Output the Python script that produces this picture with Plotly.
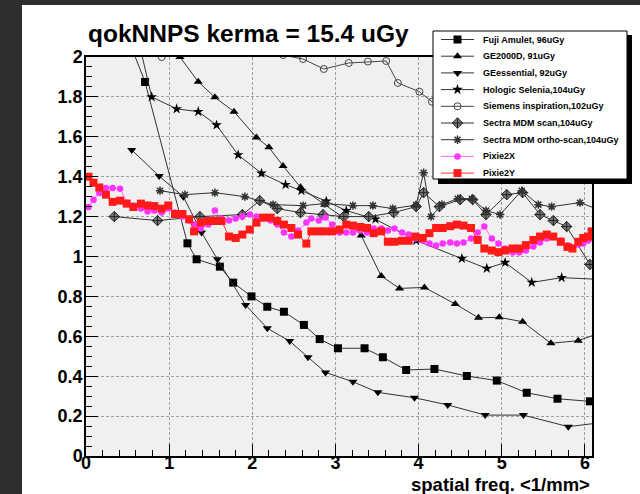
import plotly.graph_objects as go

# ---------------- data ----------------
fuji_x = [0.47, 0.71, 1.22, 1.33, 1.61, 1.77, 1.99, 2.18, 2.38, 2.62, 2.81, 3.03, 3.35, 3.57, 3.85, 4.19, 4.58, 4.94, 5.30, 5.67, 6.06]
fuji_y = [2.13, 1.875, 1.066, 0.986, 0.949, 0.869, 0.80, 0.748, 0.723, 0.657, 0.586, 0.54, 0.54, 0.495, 0.431, 0.436, 0.401, 0.378, 0.317, 0.287, 0.274]

ge2000_x = [1.13, 1.35, 1.55, 1.78, 2.05, 2.20, 2.37, 2.58, 2.87, 3.08, 3.31, 3.55, 3.77, 4.07, 4.44, 4.72, 4.97, 5.25, 5.59, 5.92, 6.20]
ge2000_y = [2.00, 1.876, 1.798, 1.726, 1.597, 1.547, 1.454, 1.347, 1.26, 1.20, 1.105, 0.902, 0.84, 0.845, 0.762, 0.693, 0.695, 0.673, 0.565, 0.578, 0.62]

geess_x = [0.55, 0.88, 1.17, 1.39, 1.58, 1.92, 2.18, 2.45, 2.67, 2.88, 3.21, 3.51, 3.95, 4.35, 4.80, 5.26, 5.80, 6.25]
geess_y = [1.534, 1.403, 1.30, 1.12, 0.986, 0.757, 0.64, 0.576, 0.495, 0.419, 0.372, 0.319, 0.292, 0.256, 0.205, 0.205, 0.147, 0.17]

hologic_x = [0.52, 0.79, 1.09, 1.35, 1.57, 1.83, 2.11, 2.40, 2.59, 2.89, 3.13, 3.48, 3.97, 4.52, 4.82, 5.04, 5.36, 5.72, 6.20]
hologic_y = [2.28, 1.80, 1.74, 1.726, 1.659, 1.509, 1.417, 1.36, 1.33, 1.277, 1.23, 1.187, 1.08, 0.99, 0.94, 0.97, 0.87, 0.894, 0.885]

siemens_x = [0.55, 0.91, 1.30, 1.70, 2.10, 2.37, 2.61, 2.86, 3.16, 3.39, 3.61, 3.75, 4.01, 4.16, 4.60, 5.10, 5.60, 6.20]
siemens_y = [2.30, 2.00, 2.10, 2.12, 2.08, 2.01, 1.99, 1.94, 1.97, 1.977, 1.98, 1.87, 1.826, 1.776, 1.70, 1.68, 1.62, 1.60]

sectra_x = [0.34, 0.86, 1.37, 1.88, 2.09, 2.30, 2.58, 2.85, 3.10, 3.40, 3.70, 3.97, 4.06, 4.25, 4.50, 4.65, 4.81, 5.06, 5.25, 5.46, 5.62, 5.78, 6.06]
sectra_y = [1.20, 1.18, 1.20, 1.21, 1.28, 1.24, 1.22, 1.21, 1.20, 1.20, 1.22, 1.25, 1.32, 1.25, 1.285, 1.285, 1.21, 1.31, 1.32, 1.21, 1.18, 1.15, 0.96]

ortho_x = [0.89, 1.19, 1.55, 1.91, 2.25, 2.61, 2.87, 3.21, 3.45, 3.69, 3.97, 4.06, 4.15, 4.28, 4.47, 4.64, 4.81, 4.98, 5.24, 5.44, 5.60, 5.94, 6.20]
ortho_y = [1.33, 1.31, 1.32, 1.30, 1.26, 1.255, 1.265, 1.255, 1.255, 1.24, 1.258, 1.42, 1.20, 1.26, 1.29, 1.29, 1.23, 1.21, 1.33, 1.26, 1.25, 1.27, 1.23]

pixie_x = [0.03, 0.09, 0.16, 0.24, 0.32, 0.41, 0.49, 0.57, 0.66, 0.74,
           0.82, 0.91, 0.99, 1.07, 1.16, 1.24, 1.30, 1.38, 1.47, 1.55,
           1.63, 1.72, 1.80, 1.88, 1.97, 2.05, 2.13, 2.22, 2.30, 2.38,
           2.47, 2.55, 2.65, 2.71, 2.80, 2.88, 2.96, 3.05, 3.13, 3.21,
           3.30, 3.38, 3.46, 3.55, 3.63, 3.71, 3.80, 3.88, 3.96, 4.05,
           4.13, 4.21, 4.29, 4.38, 4.46, 4.54, 4.63, 4.71, 4.79, 4.88,
           4.96, 5.04, 5.13, 5.21, 5.29, 5.38, 5.46, 5.54, 5.62, 5.71,
           5.79, 5.85, 5.92, 5.98, 6.04, 6.08]
pixie2y = [1.40, 1.37, 1.346, 1.31, 1.274, 1.28, 1.265, 1.248, 1.265, 1.256,
           1.253, 1.24, 1.256, 1.213, 1.213, 1.187, 1.126, 1.17, 1.178, 1.178,
           1.178, 1.10, 1.093, 1.11, 1.135, 1.17, 1.195, 1.195, 1.178, 1.16,
           1.143, 1.11, 1.065, 1.126, 1.126, 1.126, 1.126, 1.135, 1.16, 1.155,
           1.148, 1.143, 1.117, 1.126, 1.074, 1.074, 1.079, 1.079, 1.10, 1.093,
           1.117, 1.143, 1.143, 1.152, 1.16, 1.155, 1.143, 1.083, 1.04, 1.03,
           1.022, 1.03, 1.04, 1.04, 1.057, 1.083, 1.10, 1.11, 1.10, 1.074,
           1.048, 1.04, 1.074, 1.093, 1.10, 1.126]
pixie2x = [1.248, 1.284, 1.318, 1.343, 1.343, 1.34, 1.27, 1.256, 1.24, 1.225,
           1.23, 1.22, 1.24, 1.22, 1.20, 1.18, 1.16, 1.14, 1.16, 1.23,
           1.19, 1.18, 1.19, 1.20, 1.21, 1.20, 1.19, 1.18, 1.16, 1.12,
           1.10, 1.13, 1.17, 1.19, 1.18, 1.195, 1.16, 1.12, 1.12, 1.12,
           1.13, 1.12, 1.14, 1.14, 1.13, 1.14, 1.12, 1.11, 1.09, 1.08,
           1.065, 1.055, 1.065, 1.07, 1.065, 1.07, 1.09, 1.12, 1.15, 1.09,
           1.065, 1.04, 1.02, 1.02, 1.03, 1.05, 1.07, 1.09, 1.10, 1.08,
           1.055, 1.045, 1.06, 1.065, 1.08, 1.10]

series_names = ["Fuji Amulet, 96uGy", "GE2000D, 91uGy", "GEessential, 92uGy",
                "Hologic Selenia,104uGy", "Siemens inspiration,102uGy",
                "Sectra MDM scan,104uGy", "Sectra MDM ortho-scan,104uGy",
                "Pixie2X", "Pixie2Y"]

x_ticks = [0, 1, 2, 3, 4, 5, 6]
title_text = "qokNNPS kerma = 15.4 uGy"
xlabel = "spatial freq. <1/mm>"

# ---------------- styles ----------------
FONT = "Liberation Sans, Arial, Helvetica, sans-serif"
styles = [
    dict(symbol="square", size=8, color="#000", lcolor="#333", mline=None),
    dict(symbol="triangle-up", size=8, color="#000", lcolor="#333", mline=None),
    dict(symbol="triangle-down", size=8, color="#000", lcolor="#333", mline=None),
    dict(symbol="star", size=8, color="#000", lcolor="#333", mline=None),
    dict(symbol="circle-open", size=7, color="#444", lcolor="#444", mline=dict(color="#444", width=1)),
    dict(symbol="diamond-cross", size=8, color="#777", lcolor="#333", mline=dict(color="#222", width=1)),
    dict(symbol="asterisk-open", size=7, color="#333", lcolor="#333", mline=dict(color="#333", width=1.5)),
    dict(symbol="circle", size=6.5, color="#ff33ff", lcolor="#ff66ff", mline=None),
    dict(symbol="square", size=8, color="#ff1a1a", lcolor="#ff3333", mline=None),
]

data = [(fuji_x, fuji_y), (ge2000_x, ge2000_y), (geess_x, geess_y),
        (hologic_x, hologic_y), (siemens_x, siemens_y), (sectra_x, sectra_y),
        (ortho_x, ortho_y), (pixie_x, pixie2x), (pixie_x, pixie2y)]

fig = go.Figure()


def marker(st):
    m = dict(symbol=st["symbol"], size=st["size"], color=st["color"])
    if st["mline"]:
        m["line"] = st["mline"]
    return m


for (x, y), name, st in zip(data, series_names, styles):
    fig.add_trace(go.Scatter(x=x, y=y, name=name, mode="lines+markers", showlegend=False,
                             line=dict(color=st["lcolor"], width=1), marker=marker(st),
                             xaxis="x", yaxis="y"))

# ---------------- legend box (drawn on an overlay pixel axis) ----------------
LEG_L, LEG_R, LEG_T, LEG_B = 433, 627, 31, 179
SH = 5
fig.add_trace(go.Scatter(x=[LEG_L + SH, LEG_R + SH, LEG_R + SH, LEG_L + SH, LEG_L + SH],
                         y=[LEG_T + 4, LEG_T + 4, LEG_B + SH, LEG_B + SH, LEG_T + 4],
                         fill="toself", fillcolor="black", mode="lines", line=dict(color="black", width=0),
                         hoverinfo="skip", showlegend=False, xaxis="x2", yaxis="y2"))
fig.add_trace(go.Scatter(x=[LEG_L, LEG_R, LEG_R, LEG_L, LEG_L],
                         y=[LEG_T, LEG_T, LEG_B, LEG_B, LEG_T],
                         fill="toself", fillcolor="white", mode="lines", line=dict(color="black", width=1),
                         hoverinfo="skip", showlegend=False, xaxis="x2", yaxis="y2"))
row0, rowstep = 39.5, 16.7
for i, (name, st) in enumerate(zip(series_names, styles)):
    yy = row0 + i * rowstep
    fig.add_trace(go.Scatter(x=[441, 457.5, 474], y=[yy, yy, yy], mode="lines+markers",
                             line=dict(color=st["lcolor"], width=1), marker=marker(st),
                             selectedpoints=[1], unselected=dict(marker=dict(opacity=0)),
                             hoverinfo="skip", showlegend=False, xaxis="x2", yaxis="y2"))
    fig.add_annotation(text=name, x=481, y=yy, xref="x2", yref="y2", xanchor="left", yanchor="middle",
                       showarrow=False, font=dict(family=FONT, size=9, color="black", weight="bold"))

# ---------------- axes ----------------
CW, CH = 640, 494
PL, PR, PT, PB = 86, 592, 57, 456

axis_common = dict(showline=True, linecolor="black", linewidth=1.5, mirror=True,
                   ticks="inside", tickcolor="black", ticklen=12, tickwidth=1,
                   showgrid=True, gridcolor="#a0a0a0", gridwidth=1, griddash="3px,2px",
                   zeroline=False, automargin=False,
                   tickfont=dict(family=FONT, size=18, color="black", weight="bold"))

fig.update_layout(
    xaxis=dict(domain=[PL / CW, PR / CW], range=[0, 6.085], tickvals=x_ticks, anchor="y",
               ticklabelstandoff=-10,
               minor=dict(ticks="inside", ticklen=6, dtick=0.2, tickcolor="black", showgrid=False),
               **axis_common),
    yaxis=dict(domain=[1 - PB / CH, 1 - PT / CH], range=[0, 2], dtick=0.2, anchor="x",
               ticklabelstandoff=-2,
               minor=dict(ticks="inside", ticklen=6, dtick=0.05, tickcolor="black", showgrid=False),
               **axis_common),
    xaxis2=dict(domain=[0, 1], range=[0, CW], visible=False, anchor="y2", fixedrange=True, automargin=False),
    yaxis2=dict(domain=[0, 1], range=[CH, 0], visible=False, anchor="x2", fixedrange=True, automargin=False),
)

# plot background as a shape below the grid
fig.add_shape(type="rect", xref="x domain", yref="y domain", x0=0, x1=1, y0=0, y1=1,
              fillcolor="#f0f0f0", line_width=0, layer="below")

# dark border strips (left and top)
fig.add_shape(type="rect", xref="paper", yref="paper", x0=0, x1=22 / CW, y0=0, y1=1,
              fillcolor="#2e2e2e", line_width=0, layer="above")
fig.add_shape(type="rect", xref="paper", yref="paper", x0=0, x1=1, y0=1 - 5 / CH, y1=1,
              fillcolor="#2e2e2e", line_width=0, layer="above")

fig.add_annotation(text=xlabel, xref="paper", yref="paper", x=PR / CW, y=1 - 484 / CH,
                   xanchor="right", yanchor="middle", showarrow=False,
                   font=dict(family=FONT, size=18.5, color="black", weight="bold"))

fig.update_layout(
    width=CW, height=CH,
    margin=dict(l=0, r=0, t=0, b=0, autoexpand=False),
    paper_bgcolor="white", plot_bgcolor="rgba(0,0,0,0)",
    title=dict(text=title_text, x=88 / CW, xanchor="left", xref="paper",
               y=1 - 33 / CH, yanchor="middle", yref="container", automargin=False,
               font=dict(family=FONT, size=24.5, color="black", weight="bold")),
    showlegend=False,
)

fig.write_html("out.html")
